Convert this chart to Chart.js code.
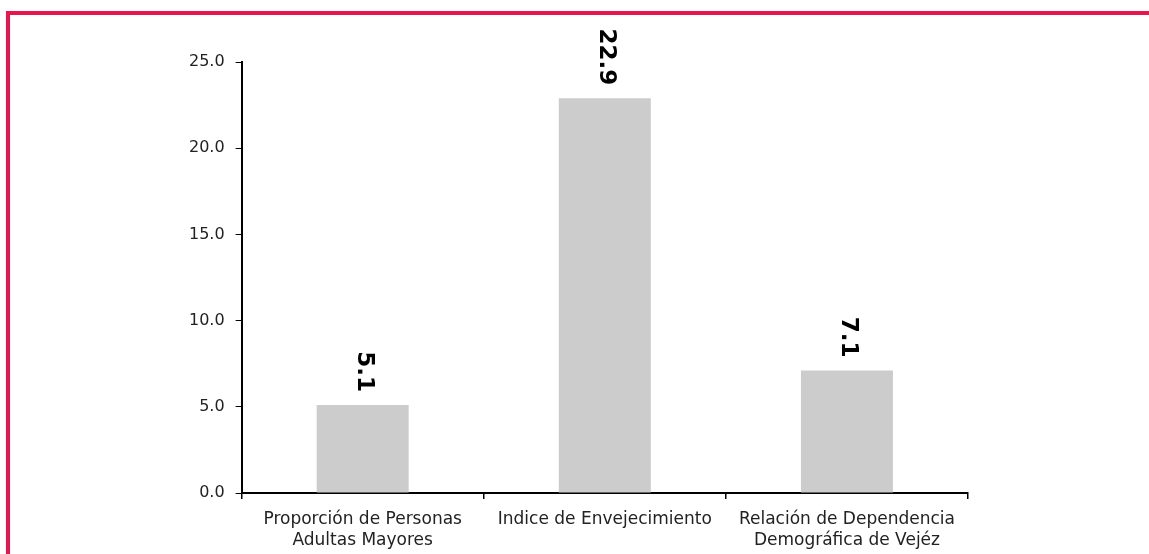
<!DOCTYPE html>
<html>
<head>
<meta charset="utf-8">
<script src="https://cdn.jsdelivr.net/npm/chart.js@4"></script>
<style>
  body { margin: 0; background: #fff; }
  #wrap { position: relative; width: 1149px; height: 554px; overflow: hidden; }
  #frame {
    position: absolute; left: 6px; top: 11px; width: 1200px; height: 600px;
    border-top: 4px solid #E8154F; border-left: 4px solid #E8154F;
    pointer-events: none;
  }
</style>
</head>
<body>
<div id="wrap">
  <canvas id="chart" width="1149" height="554"></canvas>
  <div id="frame"></div>
</div>
<script>
// Chart data
const categories = [
    ['Proporción de Personas', 'Adultas Mayores'],
    'Indice de Envejecimiento',
    ['Relación de Dependencia', 'Demográfica de Vejéz']
];
const values = [5.1, 22.9, 7.1];
const yTicks = [0, 5, 10, 15, 20, 25];

// Draw the value above each bar, rotated to read top to bottom
const barLabels = {
    id: 'barLabels',
    afterDatasetsDraw(chart) {
        const ctx = chart.ctx;
        const meta = chart.getDatasetMeta(0);
        ctx.save();
        ctx.font = 'bold 23px "DejaVu Sans"';
        ctx.fillStyle = '#000';
        ctx.textAlign = 'right';
        ctx.textBaseline = 'middle';
        meta.data.forEach(function(bar, i) {
            ctx.save();
            ctx.translate(bar.x + 1, bar.y - 13);
            ctx.rotate(Math.PI / 2);
            ctx.fillText(values[i].toFixed(1), 0, 0);
            ctx.restore();
        });
        ctx.restore();
    }
};

new Chart(document.getElementById('chart'), {
    type: 'bar',
    data: {
        labels: categories,
        datasets: [{
            data: values,
            backgroundColor: '#cccccc',
            borderWidth: 0,
            categoryPercentage: 1,
            barPercentage: 0.38
        }]
    },
    options: {
        responsive: false,
        animation: false,
        layout: { padding: { left: 178, right: 181, top: 62, bottom: 0 } },
        plugins: {
            legend: { display: false },
            tooltip: { enabled: false }
        },
        scales: {
            x: {
                afterFit: function(scale) { scale.height = 61; },
                grid: { drawOnChartArea: false, drawTicks: true, tickLength: 6, color: '#000', lineWidth: 1.5 },
                border: { color: '#000', width: 2 },
                ticks: {
                    color: '#222',
                    padding: 10,
                    font: { family: '"DejaVu Sans"', size: 17, lineHeight: 1.25 },
                    maxRotation: 0
                }
            },
            y: {
                min: yTicks[0],
                max: yTicks[yTicks.length - 1],
                afterBuildTicks: function(scale) {
                    scale.ticks = yTicks.map(function(v) { return { value: v }; });
                },
                grid: { drawOnChartArea: false, drawTicks: true, tickLength: 6, color: '#000', lineWidth: 1 },
                border: { color: '#000', width: 2 },
                ticks: {
                    color: '#222',
                    padding: 11,
                    font: { family: '"DejaVu Sans"', size: 16 },
                    callback: function(v) { return Number(v).toFixed(1); }
                }
            }
        }
    },
    plugins: [barLabels]
});
</script>
</body>
</html>
